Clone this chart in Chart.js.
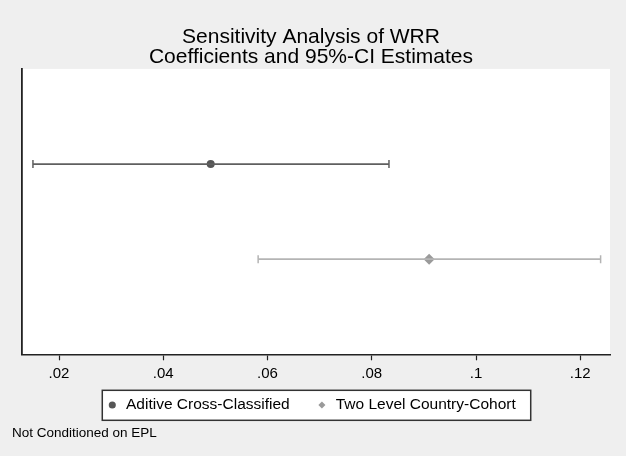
<!DOCTYPE html>
<html>
<head>
<meta charset="utf-8">
<script src="https://cdn.jsdelivr.net/npm/chart.js@4"></script>
<style>
  body { margin: 0; background: #efefef; }
  canvas { display: block; }
</style>
</head>
<body>
<canvas id="grafico" width="626" height="456"></canvas>
<script>
// datos
const modelos = ['Aditive Cross-Classified', 'Two Level Country-Cohort']
const filas = [1, 2]
const coeficientes = [0.0491, 0.0910]
const icBajo = [0.0150, 0.0582]
const icAlto = [0.0833, 0.1239]
const ticksX = [0.02, 0.04, 0.06, 0.08, 0.10, 0.12]

const coloresLinea = ['#5f5f5f', '#b4b4b4']
const coloresPunto = ['#565656', '#9a9a9a']
const estilos = ['circle', 'rectRot']
const radios = [4, 5.5]

const fuente = '"Liberation Sans", Arial, sans-serif'

// intervalos de confianza
const intervalos = modelos.map((m, i) => ({
    label: m + ' CI',
    data: [{ x: icBajo[i], y: filas[i] }, { x: icAlto[i], y: filas[i] }],
    showLine: true,
    borderColor: coloresLinea[i],
    borderWidth: 1.8,
    pointStyle: 'line',
    rotation: 90,
    pointRadius: 4,
    pointBorderWidth: 1.5,
    pointBorderColor: coloresLinea[i],
    pointBackgroundColor: coloresLinea[i]
}))

// estimaciones puntuales
const puntos = modelos.map((m, i) => ({
    label: m,
    data: [{ x: coeficientes[i], y: filas[i] }],
    pointStyle: estilos[i],
    pointRadius: radios[i],
    borderWidth: 0,
    backgroundColor: coloresPunto[i],
    borderColor: coloresPunto[i]
}))

// fondo gris, area blanca y caja de la leyenda
const fondo = {
    id: 'fondo',
    beforeDraw(chart) {
        const { ctx, chartArea: a, legend } = chart
        ctx.save()
        ctx.fillStyle = '#efefef'
        ctx.fillRect(0, 0, chart.width, chart.height)
        ctx.fillStyle = '#ffffff'
        ctx.fillRect(a.left, a.top, a.right - a.left, a.bottom - a.top)
        const hb = legend.legendHitBoxes
        if (hb && hb.length) {
            const ult = hb[hb.length - 1]
            const l = hb[0].left - 4, r = ult.left + ult.width + 15
            const t = hb[0].top - 7, b = hb[0].top + hb[0].height + 7.5
            ctx.fillRect(l, t, r - l, b - t)
            ctx.strokeStyle = '#333'
            ctx.lineWidth = 1.5
            ctx.strokeRect(l, t, r - l, b - t)
        }
        ctx.restore()
    }
}

new Chart('grafico', {
    type: 'scatter',
    data: { datasets: [...intervalos, ...puntos] },
    plugins: [fondo],
    options: {
        responsive: false,
        animation: false,
        layout: { padding: { left: 12, right: 16, top: 0, bottom: 15 } },
        scales: {
            x: {
                min: 0.0129,
                max: 0.1257,
                afterBuildTicks: scale => { scale.ticks = ticksX.map(v => ({ value: v })) },
                ticks: {
                    color: '#000',
                    padding: 5,
                    maxRotation: 0,
                    font: { family: fuente, size: 15 },
                    callback: v => v.toFixed(2).replace(/0$/, '').replace(/^0/, '')
                },
                grid: { drawOnChartArea: false, tickLength: 6, tickColor: '#222', tickWidth: 1.2 },
                border: { color: '#222', width: 1.5 }
            },
            y: {
                min: 0,
                max: 3,
                reverse: true,
                afterFit: scale => { scale.width = 10 },
                ticks: { display: false },
                grid: { drawOnChartArea: false, drawTicks: false },
                border: { color: '#222', width: 1.8 }
            }
        },
        plugins: {
            tooltip: { enabled: false },
            title: {
                display: true,
                text: ['Sensitivity Analysis of WRR', 'Coefficients and 95%-CI Estimates'],
                color: '#000',
                font: { family: fuente, size: 21, weight: 'normal', lineHeight: 0.95 },
                padding: { top: 27, bottom: 2 }
            },
            legend: {
                position: 'bottom',
                labels: {
                    filter: item => item.datasetIndex >= intervalos.length,
                    // espacio extra entre las dos entradas
                    generateLabels: chart => {
                        const items = Chart.defaults.plugins.legend.labels.generateLabels(chart)
                        return items.map((it, k) => k < items.length - 1 ? { ...it, text: it.text + '    ' } : it)
                    },
                    usePointStyle: true,
                    boxWidth: 12,
                    boxHeight: 5,
                    padding: 9,
                    color: '#000',
                    font: { family: fuente, size: 15.5 }
                }
            },
            subtitle: {
                display: true,
                position: 'bottom',
                align: 'start',
                text: 'Not Conditioned on EPL',
                color: '#000',
                font: { family: fuente, size: 13.5 },
                padding: { top: 2, bottom: 0 }
            }
        }
    }
})
</script>
</body>
</html>
